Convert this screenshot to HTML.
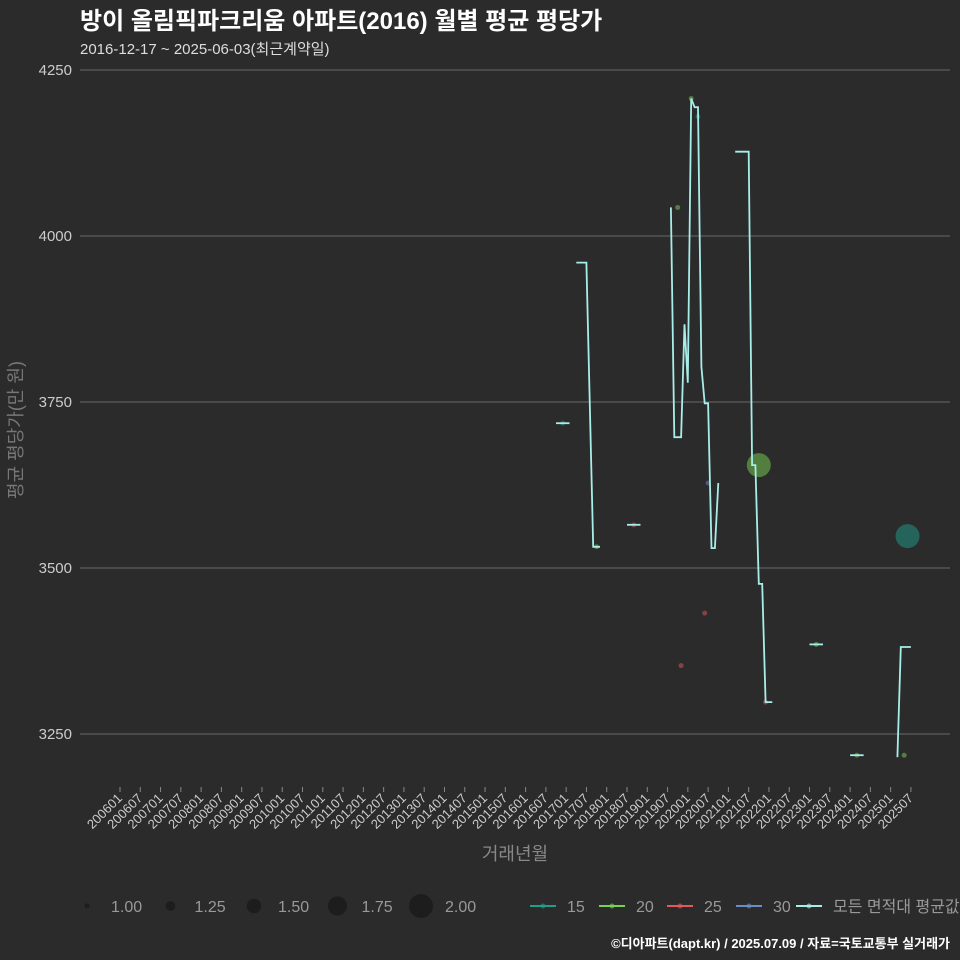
<!DOCTYPE html>
<html><head><meta charset="utf-8"><style>
html,body{margin:0;padding:0;background:#2b2b2c;}
svg{display:block;font-family:"Liberation Sans","Noto Sans CJK KR",sans-serif;}
</style></head><body>
<svg id="chart" width="960" height="960" viewBox="0 0 960 960">
<rect x="0" y="0" width="960" height="960" fill="#2b2b2c"/>
<text x="80" y="29" fill="#ffffff" font-size="24" font-weight="bold">방이 올림픽파크리움 아파트(2016) 월별 평균 평당가</text>
<text x="80" y="54" fill="#dddddd" font-size="15">2016-12-17 ~ 2025-06-03(최근계약일)</text>
<g id="grid"></g>
<g id="yticks"></g>
<g id="xticks"></g>
<g id="points"></g>
<g id="avgline"></g>
<text transform="translate(22,430) rotate(-90)" text-anchor="middle" fill="#777" font-size="18">평균 평당가(만 원)</text>
<text x="515" y="860" text-anchor="middle" fill="#888" font-size="18">거래년월</text>
<g id="legend"></g>
<text x="950" y="948" text-anchor="end" fill="#ffffff" font-size="13" font-weight="bold">©디아파트(dapt.kr) / 2025.07.09 / 자료=국토교통부 실거래가</text>
</svg>
<script>
const yTicks = [3250, 3500, 3750, 4000, 4250];
const lineMonths = ["201610","201702",null,"201704","201707","201709","201711",null,"201807","201811",null,
 "201908","201909","201911","201912","202001","202002","202003","202004","202005","202006","202007","202008","202009","202010",null,
 "202103","202107","202108","202109","202110","202111","202112","202202",null,"202301","202305",null,"202401","202405",null,"202503","202504","202507"];
const lineValues = [3718,3718,null,3960,3960,3532,3532,null,3565,3565,null,
 4043,3697,3697,3867,3779,4207,4194,4194,3803,3748,3748,3530,3530,3628,null,
 4127,4127,3655,3655,3476,3476,3298,3298,null,3385,3385,null,3218,3218,null,3215,3381,3381];
const ptMonths = ["201612","201710","201809","201910","202002","202004","202110","202303","202403","202505","202506","201911","202006","202112","202007"];
const ptValues = [3718,3532,3565,4043,4207,4180,3655,3385,3218,3218,3548,3353,3432,3298,3628];
const ptTypes = ["15","20","25","20","20","15","20","20","20","20","15","25","25","25","30"];
const ptSizes = [1,1,1,1,1,1,2,1,1,1,2,1,1,1,1];
const typeNames = ["15","20","25","30"];
const typeColors = {"15":"#1f9e89","20":"#7ad151","25":"#e05a5a","30":"#6a8cc7"};
const sizeLevels = [1.00,1.25,1.50,1.75,2.00];

const NS="http://www.w3.org/2000/svg";
function mk(tag,attrs,parent){const e=document.createElementNS(NS,tag);for(const k in attrs)e.setAttribute(k,attrs[k]);parent.appendChild(e);return e;}
function xScale(ym){const y=+ym.slice(0,4),m=+ym.slice(4,6);return 120+((y-2006)*12+(m-1))*3.38;}
function yScale(v){return 70+(4250-v)*166/250;}
function rScale(s){return 2.5+(s-1)*9.5;}

const grid=document.getElementById('grid'),yt=document.getElementById('yticks');
yTicks.forEach(v=>{
  const l=mk('line',{x1:80,x2:950,y1:yScale(v),y2:yScale(v),stroke:'#686868','stroke-width':1},grid);
  
  
  const t=mk('text',{x:72,y:yScale(v)+5,'text-anchor':'end',fill:'#cccccc','font-size':15},yt);
  t.textContent=v;
  
  
});
const xt=document.getElementById('xticks');
for(let y=2006;y<=2025;y++){for(const m of ["01","07"]){
  const ym=y+m,x=xScale(ym);
  const tk=mk('line',{x1:x,x2:x,y1:787,y2:792,stroke:'#888'},xt);
  
  
  const t=mk('text',{transform:`translate(${x+3},${799}) rotate(-45)`,'text-anchor':'end',fill:'#cccccc','font-size':13},xt);
  t.textContent=ym;
  
  
}}
const pts=document.getElementById('points');
ptMonths.forEach((ym,i)=>{
  const c=mk('circle',{cx:xScale(ym),cy:yScale(ptValues[i]),r:rScale(ptSizes[i]),fill:typeColors[ptTypes[i]],'fill-opacity':0.5},pts);
  
  
});
const al=document.getElementById('avgline');
let seg=[];
function flush(){if(seg.length){const p=mk('polyline',{points:seg.join(' '),fill:'none',stroke:'#a8eee8','stroke-width':1.8},al);}seg=[];}
lineMonths.forEach((ym,i)=>{if(ym===null){flush();return;}seg.push(xScale(ym).toFixed(1)+','+yScale(lineValues[i]).toFixed(1));});
flush();
const lg=document.getElementById('legend');
sizeLevels.forEach((s,i)=>{
  const x=87+i*83.5;
  const c=mk('circle',{cx:x,cy:906,r:rScale(s),fill:'#1a1a1a','fill-opacity':0.8},lg);
  
  
  const t=mk('text',{x:x+24,y:912,fill:'#999','font-size':16},lg);
  t.textContent=s.toFixed(2);
  
  
});
const cl=[...typeNames.map(n=>[n,typeColors[n]]),["모든 면적대 평균값","#a8eee8"]];
const lx=[530,599,667,736,796];
cl.forEach((e,i)=>{
  const x=lx[i];
  const l=mk('line',{x1:x,x2:x+26,y1:906,y2:906,stroke:e[1],'stroke-width':2},lg);
  
  
  const c=mk('circle',{cx:x+13,cy:906,r:2.5,fill:e[1],'fill-opacity':0.6},lg);
  
  
  const t=mk('text',{x:x+37,y:912,fill:'#999','font-size':16},lg);
  t.textContent=e[0];
  
  
});
</script>
</body></html>
